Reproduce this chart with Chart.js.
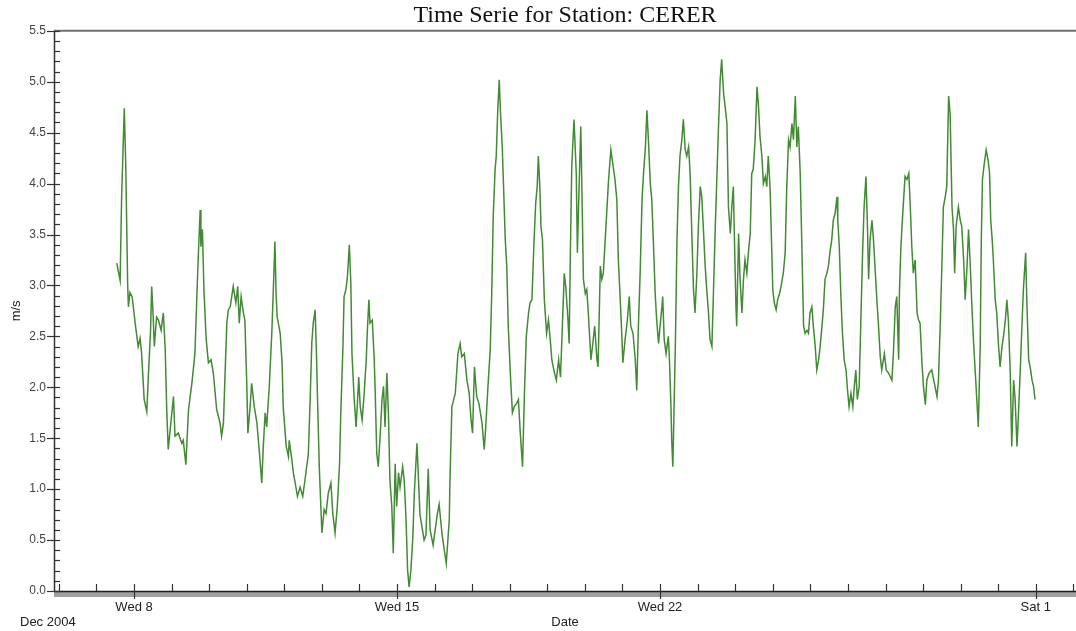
<!DOCTYPE html>
<html>
<head>
<meta charset="utf-8">
<script src="https://cdn.jsdelivr.net/npm/chart.js@4.4.1/dist/chart.umd.min.js"></script>
<style>
  html, body { margin: 0; padding: 0; background: #fff; }
  #wrap { width: 1076px; height: 631px; }
</style>
</head>
<body>
<div id="wrap"><canvas id="windChart" width="1076" height="631"></canvas></div>
<script>
// Time axis in days of December 2004 (Jan 1 2005 = day 32)
var days = [
  7.54,7.63,7.67,7.74,7.78,7.83,7.85,7.89,7.95,8.03,8.11,8.16,8.20,8.27,8.34,8.38,8.44,8.47,8.51,8.54,8.60,8.65,8.72,8.78,8.83,8.87,8.91,8.98,9.05,9.09,9.18,9.27,9.31,9.38,9.45,9.54,9.62,9.70,9.76,9.78,9.82,9.86,9.92,9.98,
  10.05,10.11,10.20,10.29,10.33,10.38,10.42,10.47,10.51,10.56,10.64,10.71,10.76,10.80,10.85,10.91,10.95,11.00,11.03,11.09,11.13,11.20,11.27,11.33,11.40,11.44,11.49,11.53,11.60,11.67,11.71,11.75,11.78,11.81,11.89,11.94,11.97,
  12.05,12.11,12.13,12.20,12.24,12.29,12.35,12.42,12.49,12.55,12.64,12.69,12.73,12.77,12.82,12.85,12.88,12.93,13.00,13.06,13.11,13.17,13.24,13.29,13.35,13.41,13.47,13.50,13.56,13.59,13.64,13.68,13.73,13.77,13.80,13.86,13.91,13.94,13.98,
  14.02,14.07,14.12,14.18,14.21,14.25,14.28,14.34,14.39,14.42,14.46,14.50,14.55,14.60,14.64,14.68,14.73,14.77,14.81,14.86,14.90,14.95,14.99,15.04,15.08,15.15,15.19,15.24,15.28,15.32,15.37,15.42,15.46,15.53,15.61,15.72,15.77,15.83,15.88,15.96,
  16.07,16.12,16.20,16.31,16.39,16.41,16.46,16.55,16.62,16.68,16.72,16.79,16.86,16.92,16.97,17.01,17.06,17.12,17.18,17.26,17.32,17.36,17.42,17.48,17.52,17.56,17.61,17.64,17.68,17.72,17.75,17.80,17.84,17.88,17.92,17.96,
  18.02,18.07,18.12,18.18,18.23,18.28,18.34,18.39,18.44,18.50,18.54,18.59,18.64,18.69,18.73,18.76,18.80,18.83,18.87,18.92,18.98,19.03,19.07,19.12,19.19,19.24,19.30,19.35,19.40,19.45,19.49,19.55,19.58,19.61,19.65,19.71,19.77,19.80,19.85,19.89,19.92,19.96,
  20.01,20.05,20.09,20.16,20.21,20.26,20.32,20.35,20.41,20.45,20.49,20.56,20.63,20.69,20.74,20.80,20.85,20.89,20.94,20.98,21.01,21.07,21.13,21.18,21.22,21.28,21.34,21.38,21.42,21.47,21.52,21.56,21.61,21.65,21.69,21.74,21.78,21.82,21.87,21.91,21.96,
  22.00,22.05,22.07,22.11,22.16,22.22,22.25,22.29,22.31,22.34,22.37,22.41,22.45,22.49,22.53,22.58,22.62,22.67,22.71,22.76,22.80,22.85,22.89,22.93,22.98,23.02,23.07,23.11,23.15,23.20,23.25,23.29,23.33,23.38,23.42,23.47,23.51,23.55,23.60,23.64,23.69,23.73,23.78,23.82,23.87,23.91,23.95,23.98,
  24.02,24.04,24.09,24.13,24.18,24.22,24.26,24.31,24.35,24.40,24.44,24.48,24.53,24.58,24.62,24.66,24.71,24.75,24.80,24.84,24.88,24.93,24.97,25.00,25.04,25.09,25.13,25.18,25.22,25.28,25.33,25.37,25.42,25.46,25.51,25.55,25.60,25.64,25.68,25.73,25.77,25.82,25.86,25.91,25.95,25.99,
  26.04,26.08,26.13,26.17,26.22,26.26,26.31,26.35,26.39,26.44,26.48,26.53,26.57,26.61,26.66,26.71,26.73,26.77,26.81,26.85,26.90,26.95,26.99,27.03,27.08,27.13,27.17,27.21,27.25,27.30,27.34,27.39,27.43,27.48,27.52,27.55,27.59,27.64,27.68,27.73,27.77,27.81,27.86,27.90,27.97,
  28.02,28.08,28.17,28.21,28.26,28.30,28.35,28.37,28.41,28.46,28.52,28.57,28.62,28.66,28.70,28.74,28.79,28.84,28.88,28.92,28.97,29.01,29.06,29.10,29.16,29.23,29.30,29.37,29.41,29.46,29.50,29.54,29.59,29.63,29.68,29.72,29.77,29.81,29.84,29.88,29.94,29.99,
  30.03,30.08,30.12,30.17,30.21,30.25,30.30,30.34,30.39,30.43,30.47,30.52,30.55,30.58,30.63,30.68,30.73,30.77,30.80,30.84,30.87,30.92,30.96,31.01,31.05,31.10,31.14,31.19,31.23,31.27,31.32,31.36,31.41,31.45,31.50,31.54,31.59,31.63,31.67,31.73,31.76,31.81,31.85,31.90,31.94,31.98
];

// Wind speed in m/s, one value per entry of days
var speeds = [
  3.22,3.05,3.87,4.74,4.17,3.02,2.79,2.93,2.89,2.63,2.40,2.48,2.34,1.88,1.76,2.10,2.56,2.99,2.69,2.40,2.69,2.66,2.56,2.73,2.37,1.78,1.39,1.65,1.91,1.52,1.55,1.45,1.48,1.24,1.78,2.04,2.33,3.19,3.74,3.38,3.55,2.96,2.47,2.24,
  2.27,2.14,1.78,1.65,1.52,1.65,2.10,2.63,2.76,2.79,2.99,2.83,2.99,2.63,2.89,2.73,2.66,2.04,1.55,1.81,2.04,1.81,1.65,1.39,1.06,1.42,1.75,1.61,2.01,2.56,2.99,3.43,2.92,2.69,2.53,2.24,1.81,
  1.42,1.32,1.48,1.29,1.16,1.06,0.93,1.02,0.93,1.09,1.35,1.91,2.43,2.63,2.76,2.40,1.94,1.22,0.57,0.80,0.76,0.96,1.06,0.76,0.57,0.83,1.25,1.71,2.40,2.89,2.96,3.09,3.40,3.02,2.33,1.88,1.61,1.81,2.10,
  1.81,1.68,1.91,2.27,2.56,2.86,2.63,2.66,2.30,1.94,1.35,1.22,1.52,1.88,2.01,1.61,2.14,1.75,1.09,0.83,0.37,1.25,0.83,1.16,1.02,1.22,1.09,0.70,0.21,0.04,0.21,0.53,0.96,1.45,0.75,0.50,0.55,1.20,0.60,0.45,
  0.75,0.85,0.55,0.27,0.70,1.12,1.81,1.94,2.33,2.43,2.30,2.33,2.07,1.94,1.68,1.55,2.20,1.91,1.84,1.65,1.39,1.61,2.01,2.37,2.92,3.68,4.14,4.27,4.72,5.02,4.72,4.36,3.91,3.45,3.19,2.60,
  2.10,1.75,1.81,1.84,1.88,1.55,1.22,1.94,2.50,2.73,2.83,2.86,3.38,3.81,3.97,4.27,3.97,3.58,3.45,2.86,2.53,2.66,2.50,2.27,2.14,2.07,2.27,2.10,2.60,3.12,2.99,2.66,2.43,3.25,4.17,4.63,4.10,3.32,4.04,4.56,3.94,3.06,
  2.92,2.96,2.73,2.27,2.43,2.60,2.27,2.20,3.19,3.06,3.12,3.58,4.04,4.33,4.20,4.04,3.84,3.25,2.86,2.53,2.24,2.47,2.66,2.89,2.60,2.53,2.27,1.97,2.56,3.12,3.84,4.10,4.36,4.72,4.43,4.00,3.84,3.45,2.92,2.66,2.43,
  2.60,2.79,2.89,2.47,2.33,2.50,2.27,1.81,1.48,1.22,1.75,2.47,3.45,3.97,4.27,4.43,4.63,4.33,4.27,4.36,4.10,3.45,2.96,2.73,3.12,3.58,3.97,3.87,3.58,3.19,2.92,2.73,2.47,2.40,2.92,3.58,4.04,4.50,5.02,5.22,4.89,4.76,4.59,3.77,3.51,3.77,3.97,3.45,
  2.79,2.60,3.51,3.06,2.73,3.06,3.25,3.12,3.32,3.51,4.10,4.14,4.43,4.95,4.76,4.46,4.27,4.00,4.07,3.97,4.27,3.94,3.38,2.96,2.83,2.76,2.86,2.92,2.99,3.12,3.32,3.94,4.43,4.36,4.59,4.43,4.86,4.36,4.56,4.10,3.45,2.60,2.53,2.56,2.53,2.73,
  2.79,2.60,2.40,2.17,2.27,2.40,2.60,2.79,3.06,3.12,3.19,3.35,3.45,3.64,3.71,3.87,3.64,3.38,2.92,2.56,2.27,2.17,1.97,1.81,1.94,1.81,2.01,2.17,1.88,2.01,2.60,3.32,3.77,4.07,3.58,3.06,3.45,3.64,3.45,3.12,2.86,2.63,2.30,2.17,2.33,
  2.17,2.14,2.07,2.33,2.79,2.89,2.27,2.92,3.38,3.71,4.07,4.04,4.10,3.77,3.38,3.12,3.25,2.73,2.66,2.63,2.24,2.01,1.83,2.07,2.14,2.17,2.04,1.91,2.07,2.66,3.19,3.77,3.87,3.97,4.86,4.69,3.77,3.55,3.12,3.58,3.77,3.64,
  3.58,3.25,2.86,3.19,3.55,3.25,2.79,2.47,2.14,1.88,1.61,2.40,3.45,4.04,4.20,4.33,4.23,4.10,3.64,3.45,3.25,2.86,2.73,2.40,2.20,2.40,2.50,2.66,2.86,2.66,2.14,1.42,2.07,1.88,1.42,1.75,2.20,2.60,2.96,3.32,2.86,2.27,2.20,2.07,2.01,1.88
];

// Labelled day ticks on the date axis
var xTickDays = [8, 15, 22, 32];
var xTickLabels = ["Wed 8", "Wed 15", "Wed 22", "Sat 1"];

if (days.length !== speeds.length) {
  console.error("days/speeds length mismatch", days.length, speeds.length);
}

var points = days.map(function(d, i) { return { x: d, y: speeds[i] }; });

var sansFont = "'Liberation Sans', Arial, sans-serif";

// Draws the axis lines, the major/minor tick marks and the month label
var stationAxes = {
  id: "stationAxes",
  beforeDatasetsDraw: function(chart) {
    var ctx = chart.ctx;
    var a = chart.chartArea;
    var xs = chart.scales.x;
    var ys = chart.scales.y;
    ctx.save();

    // top frame line
    ctx.strokeStyle = "#707070";
    ctx.lineWidth = 2;
    ctx.beginPath();
    ctx.moveTo(a.left, a.top);
    ctx.lineTo(a.right, a.top);
    ctx.stroke();

    // thick grey band under the date axis
    ctx.fillStyle = "#a0a0a0";
    ctx.fillRect(a.left, a.bottom, a.right - a.left, 6);
    ctx.strokeStyle = "#1e1e1e";
    ctx.lineWidth = 1.5;
    ctx.beginPath();
    ctx.moveTo(a.left, a.bottom + 0.5);
    ctx.lineTo(a.right, a.bottom + 0.5);
    ctx.stroke();

    // value axis
    ctx.strokeStyle = "#333";
    ctx.lineWidth = 1.5;
    ctx.beginPath();
    ctx.moveTo(a.left + 0.5, a.top);
    ctx.lineTo(a.left + 0.5, a.bottom);
    ctx.stroke();

    ctx.lineWidth = 1.2;
    for (var i = 0; i <= 55; i++) {
      var py = Math.round(ys.getPixelForValue(i / 10)) + 0.5;
      var major = i % 5 === 0;
      ctx.beginPath();
      ctx.moveTo(major ? a.left - 7 : a.left, py);
      ctx.lineTo(a.left + 6, py);
      ctx.stroke();
    }

    for (var d = 6; d <= 33; d++) {
      var px = Math.round(xs.getPixelForValue(d)) + 0.5;
      var big = xTickDays.indexOf(d) !== -1;
      ctx.beginPath();
      ctx.moveTo(px, a.bottom - 7);
      ctx.lineTo(px, big ? a.bottom + 8 : a.bottom);
      ctx.stroke();
    }

    ctx.fillStyle = "#222";
    ctx.font = "13px " + sansFont;
    ctx.textBaseline = "middle";
    ctx.textAlign = "left";
    ctx.fillText("Dec 2004", 20, 622);
    ctx.restore();
  }
};

var ctx = document.getElementById("windChart").getContext("2d");
window.windChart = new Chart(ctx, {
  type: "line",
  data: {
    datasets: [{
      label: "m/s",
      data: points,
      borderColor: "#428a34",
      borderWidth: 1.5,
      pointRadius: 0,
      fill: false,
      tension: 0
    }]
  },
  options: {
    responsive: false,
    animation: false,
    layout: { padding: 0 },
    plugins: {
      legend: { display: false },
      tooltip: { enabled: false },
      title: {
        display: true,
        text: "Time Serie for Station: CERER",
        fullSize: false,
        color: "#111",
        font: { family: "'Liberation Serif', 'Times New Roman', serif", size: 24, weight: "normal", lineHeight: 1.2 },
        padding: { top: 1, bottom: 1 }
      }
    },
    scales: {
      x: {
        type: "linear",
        min: 5.87,
        max: 33.07,
        grid: { display: false, drawTicks: false },
        border: { display: false },
        afterBuildTicks: function(scale) {
          scale.ticks = xTickDays.map(function(v) { return { value: v }; });
        },
        afterFit: function(scale) { scale.height = 40; },
        ticks: {
          autoSkip: false,
          maxRotation: 0,
          padding: 9,
          color: "#222",
          font: { family: sansFont, size: 13 },
          callback: function(v, i) { return xTickLabels[i]; }
        },
        title: {
          display: true,
          text: "Date",
          color: "#222",
          font: { family: sansFont, size: 13 },
          padding: { top: 0, bottom: 1 }
        }
      },
      y: {
        min: 0,
        max: 5.5,
        grid: { display: false, drawTicks: false },
        border: { display: false },
        afterFit: function(scale) { scale.width = 54; },
        ticks: {
          stepSize: 0.5,
          padding: 8,
          color: "#444",
          font: { family: sansFont, size: 12 },
          callback: function(v) { return v.toFixed(1); }
        },
        title: {
          display: true,
          text: "m/s",
          color: "#222",
          font: { family: sansFont, size: 13 },
          padding: { top: 9, bottom: 0 }
        }
      }
    }
  },
  plugins: [stationAxes]
});
</script>
</body>
</html>
